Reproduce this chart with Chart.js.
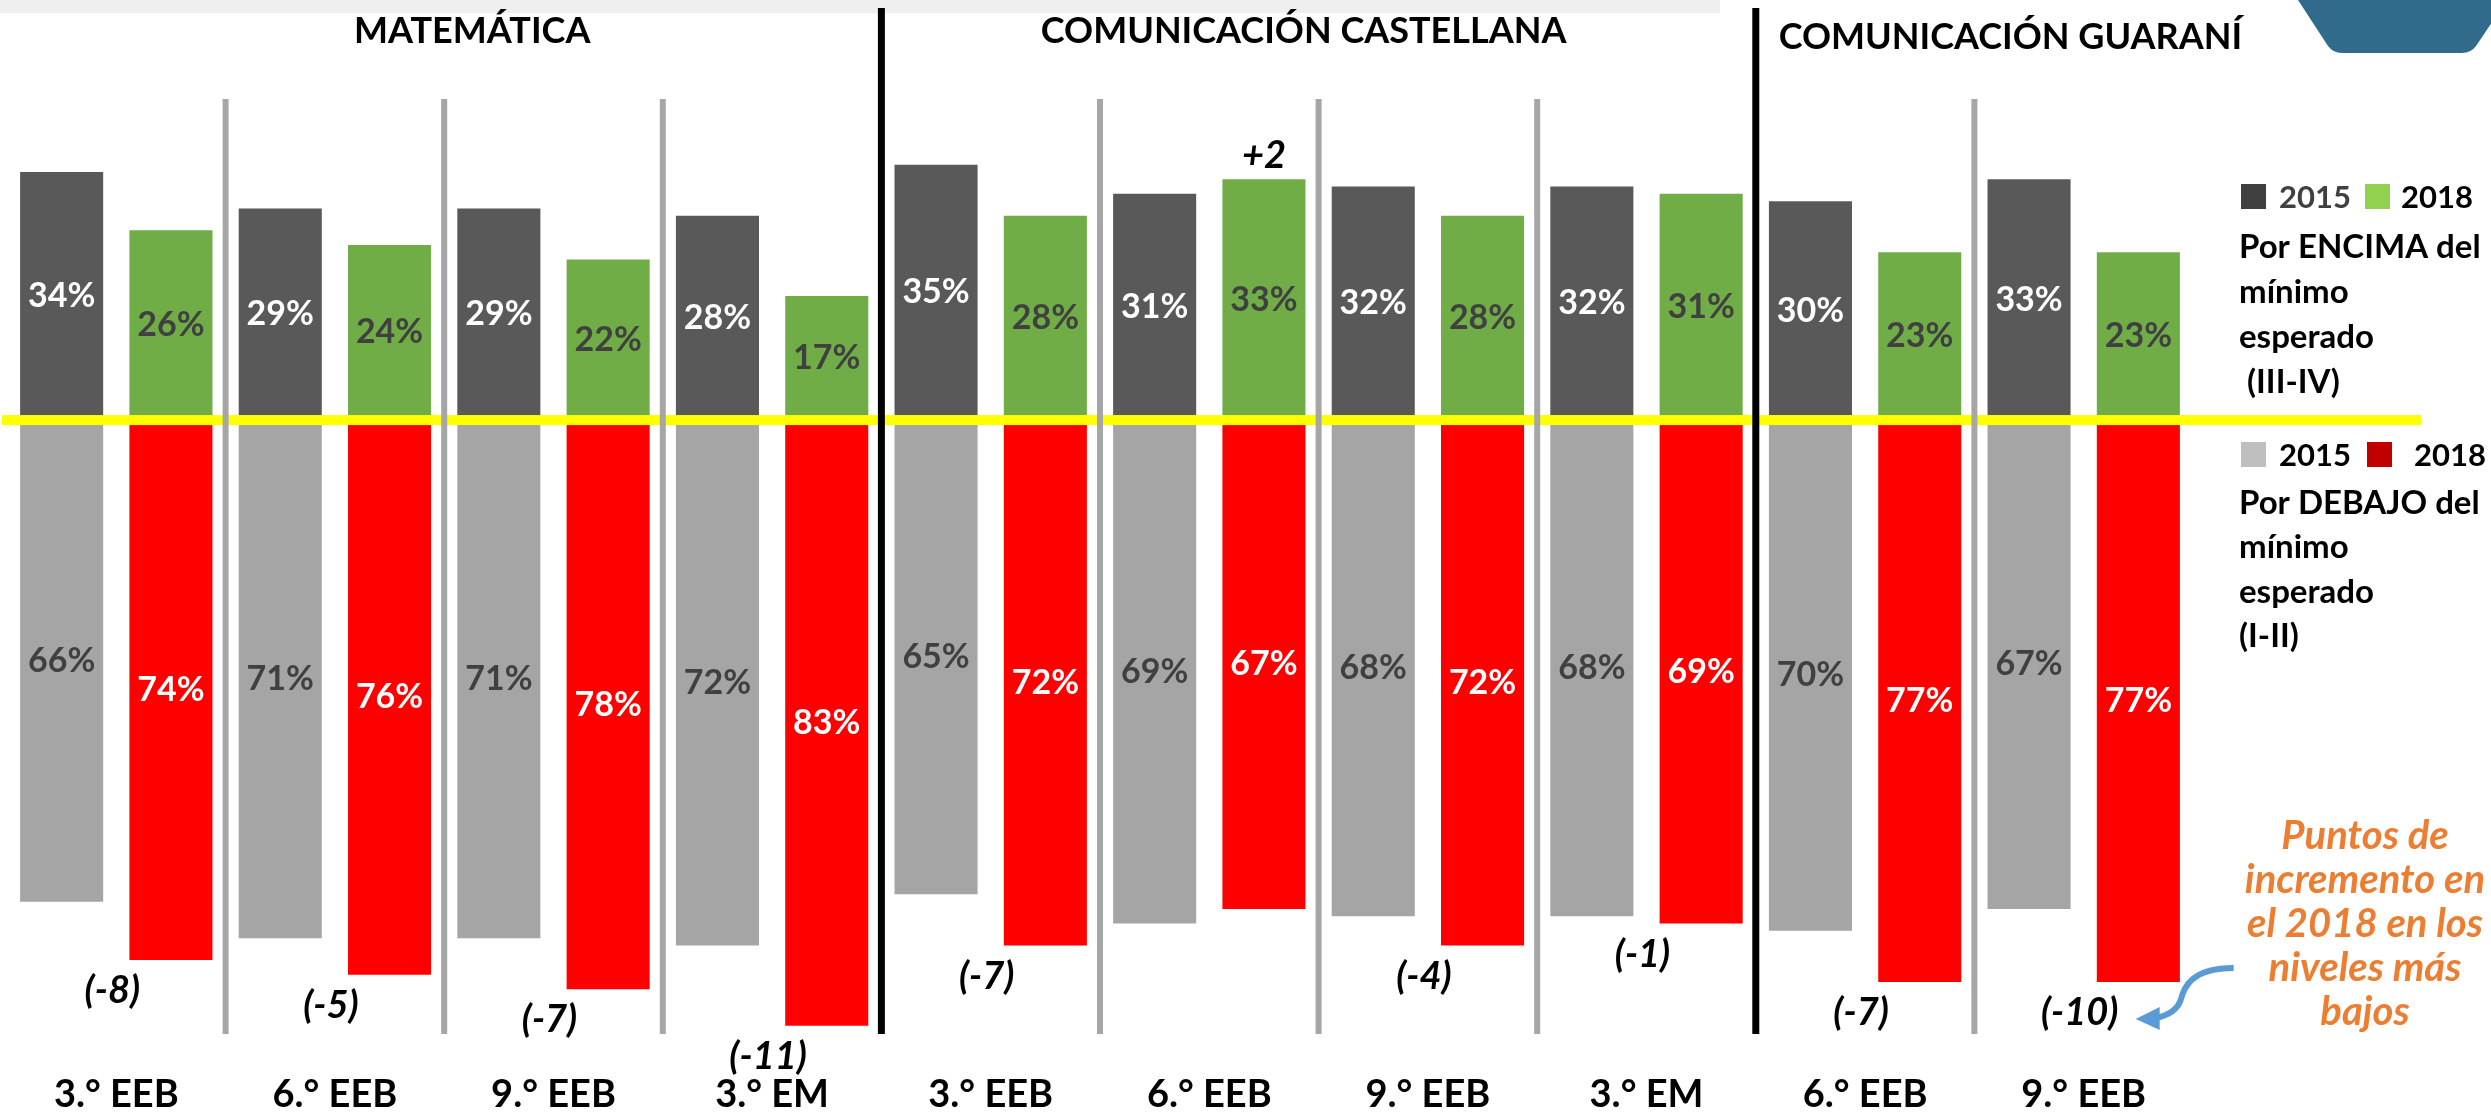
<!DOCTYPE html>
<html lang="es">
<head>
<meta charset="UTF-8">
<title>Niveles de desempeño 2015 - 2018</title>
<script src="https://cdn.jsdelivr.net/npm/chart.js"></script>
<style>
  html, body { margin: 0; padding: 0; background: #fff; }
  #wrap { width: 2491px; height: 1120px; }
</style>
</head>
<body>
<div id="wrap"><canvas id="chart" width="2491" height="1120"></canvas></div>
<script>
// grados evaluados, de izquierda a derecha
const grados = ['3.° EEB', '6.° EEB', '9.° EEB', '3.° EM', '3.° EEB', '6.° EEB', '9.° EEB', '3.° EM', '6.° EEB', '9.° EEB'];
const areas = ['MATEMÁTICA', 'COMUNICACIÓN CASTELLANA', 'COMUNICACIÓN GUARANÍ'];
const areaDeGrado = [0, 0, 0, 0, 1, 1, 1, 1, 2, 2];

// % por encima del mínimo esperado (III-IV)
const encima2015 = [34, 29, 29, 28, 35, 31, 32, 32, 30, 33];
const encima2018 = [26, 24, 22, 17, 28, 33, 28, 31, 23, 23];
// % por debajo del mínimo esperado (I-II)
const debajo2015 = [66, 71, 71, 72, 65, 69, 68, 68, 70, 67];
const debajo2018 = [74, 76, 78, 83, 72, 67, 72, 69, 77, 77];
// puntos de cambio en los niveles bajos
const cambio = [-8, -5, -7, -11, -7, 2, -4, -1, -7, -10];

const notaLineas = ['Puntos de', 'incremento en', 'el 2018 en los', 'niveles más', 'bajos'];

const FONT = 'Lato, "Open Sans", sans-serif';
const titleDx = [28, -15, 36];
const titleDy = [31, 31, 37];

function font(size, style) {
    return (style || 'bold') + ' ' + size + 'px ' + FONT;
}

// slide header bits (gray strip + blue tab)
const decorPlugin = {
    id: 'decor',
    beforeDraw(chart) {
        const c = chart.ctx;
        c.save();
        c.fillStyle = '#efefef';
        c.fillRect(0, 0, 1720, 13);
        c.fillStyle = '#306b8c';
        c.beginPath();
        c.moveTo(2298, 0);
        c.lineTo(2328, 46);
        c.quadraticCurveTo(2333, 53, 2342, 53);
        c.lineTo(2462, 53);
        c.quadraticCurveTo(2471, 53, 2476, 46);
        c.lineTo(2507, 0);
        c.closePath();
        c.fill();
        c.restore();
    }
};

const overlayPlugin = {
    id: 'overlay',
    afterDatasetsDraw(chart) {
        const c = chart.ctx;
        const x = chart.scales.x, y = chart.scales.y;
        const area = chart.chartArea;
        const y0 = y.getPixelForValue(0);
        const half = (x.getPixelForValue(1) - x.getPixelForValue(0)) / 2;
        c.save();

        // yellow line at the 0 level
        c.fillStyle = '#ffff00';
        c.fillRect(2, y0 - 5, 2419, 10);

        // separators between grades / areas
        for (let i = 1; i < grados.length; i++) {
            const xb = x.getPixelForValue(i) - half;
            c.beginPath();
            if (areaDeGrado[i] !== areaDeGrado[i - 1]) {
                c.strokeStyle = '#000';
                c.lineWidth = 7;
                c.moveTo(xb, 8);
            } else {
                c.strokeStyle = '#a6a6a6';
                c.lineWidth = 6;
                c.moveTo(xb, area.top);
            }
            c.lineTo(xb, area.bottom + 1);
            c.stroke();
        }

        c.fillStyle = '#000';
        c.textAlign = 'center';
        c.textBaseline = 'middle';

        // area titles
        c.font = font(36);
        areas.forEach((name, a) => {
            const idx = areaDeGrado.map((v, i) => v === a ? i : -1).filter(i => i >= 0);
            const left = x.getPixelForValue(idx[0]) - half;
            const right = x.getPixelForValue(idx[idx.length - 1]) + half;
            c.fillText(name, (left + right) / 2 + titleDx[a], titleDy[a]);
        });

        // grade labels under each category
        c.font = font(38);
        grados.forEach((g, i) => {
            c.fillText(g, x.getPixelForValue(i), area.bottom + 62);
        });

        // values inside the bars
        c.font = font(34);
        chart.data.datasets.forEach((ds, d) => {
            chart.getDatasetMeta(d).data.forEach((el, i) => {
                c.fillStyle = ds.txt;
                c.fillText(Math.abs(ds.data[i]) + '%', el.x, (el.y + el.base) / 2);
            });
        });

        // change labels
        c.fillStyle = '#000';
        c.font = font(38, 'italic bold');
        const up = chart.getDatasetMeta(2).data;
        const down = chart.getDatasetMeta(3).data;
        cambio.forEach((v, i) => {
            if (v > 0) {
                c.fillText('+' + v, up[i].x, up[i].y - 24);
            } else {
                c.fillText('(' + v + ')', x.getPixelForValue(i) - 4, down[i].y + 31);
            }
        });

        // blue arrow pointing at the last change label
        const last = grados.length - 1;
        const ax = x.getPixelForValue(last) + 52;
        const ay = down[last].y + 36;
        c.strokeStyle = '#5b9bd5';
        c.fillStyle = '#5b9bd5';
        c.lineWidth = 6;
        c.beginPath();
        c.moveTo(ax + 98, ay - 50);
        c.bezierCurveTo(ax + 55, ay - 50, ax + 48, ay - 30, ax + 45, ay - 18);
        c.quadraticCurveTo(ax + 40, ay - 4, ax + 20, ay);
        c.stroke();
        c.beginPath();
        c.moveTo(ax, ay + 1);
        c.lineTo(ax + 24, ay - 11);
        c.lineTo(ax + 24, ay + 12);
        c.closePath();
        c.fill();

        c.restore();
    }
};

// legend panel on the right
const legendPlugin = {
    id: 'panel',
    afterDraw(chart) {
        const c = chart.ctx;
        c.save();
        c.textBaseline = 'middle';
        c.textAlign = 'left';

        c.fillStyle = '#404040'; c.fillRect(2241, 184, 25, 25);
        c.fillStyle = '#92d050'; c.fillRect(2365, 184, 25, 25);
        c.font = font(31);
        c.fillStyle = '#404040'; c.fillText('2015', 2279, 198);
        c.fillStyle = '#000'; c.fillText('2018', 2401, 198);
        c.font = font(33);
        ['Por ENCIMA del', 'mínimo', 'esperado', ' (III-IV)'].forEach((t, k) => {
            c.fillText(t, 2239, 247 + k * 45);
        });

        c.fillStyle = '#bfbfbf'; c.fillRect(2241, 442, 25, 25);
        c.fillStyle = '#c00000'; c.fillRect(2367, 442, 25, 25);
        c.font = font(31);
        c.fillStyle = '#000';
        c.fillText('2015', 2279, 456);
        c.fillText('2018', 2414, 456);
        c.font = font(33);
        ['Por DEBAJO del', 'mínimo', 'esperado', '(I-II)'].forEach((t, k) => {
            c.fillText(t, 2239, 503 + k * 44.5);
        });

        c.textAlign = 'center';
        c.fillStyle = '#ed7d31';
        c.font = font(40, 'italic bold');
        notaLineas.forEach((t, k) => {
            c.fillText(t, 2365, 836 + k * 44);
        });
        c.restore();
    }
};

const neg = arr => arr.map(v => -v);

new Chart(document.getElementById('chart').getContext('2d'), {
    type: 'bar',
    data: {
        labels: grados,
        datasets: [
            { label: '2015 por encima', data: encima2015, backgroundColor: '#595959', stack: 's2015', txt: '#ffffff' },
            { label: '2015 por debajo', data: neg(debajo2015), backgroundColor: '#a5a5a5', stack: 's2015', txt: '#404040' },
            { label: '2018 por encima', data: encima2018, backgroundColor: '#70ad47', stack: 's2018', txt: '#404040' },
            { label: '2018 por debajo', data: neg(debajo2018), backgroundColor: '#ff0000', stack: 's2018', txt: '#ffffff' }
        ]
    },
    options: {
        responsive: false,
        animation: false,
        layout: { padding: { top: 99, left: 7, right: 298, bottom: 0 } },
        datasets: { bar: { categoryPercentage: 1, barPercentage: 0.76 } },
        plugins: {
            legend: { display: false },
            tooltip: { enabled: false }
        },
        scales: {
            x: {
                stacked: true,
                grid: { display: false, drawTicks: false },
                border: { display: false },
                ticks: { display: false },
                afterFit(scale) { scale.height = 87; }
            },
            y: { stacked: true, display: false, min: -84, max: 44 }
        }
    },
    plugins: [decorPlugin, overlayPlugin, legendPlugin]
});
</script>
</body>
</html>
